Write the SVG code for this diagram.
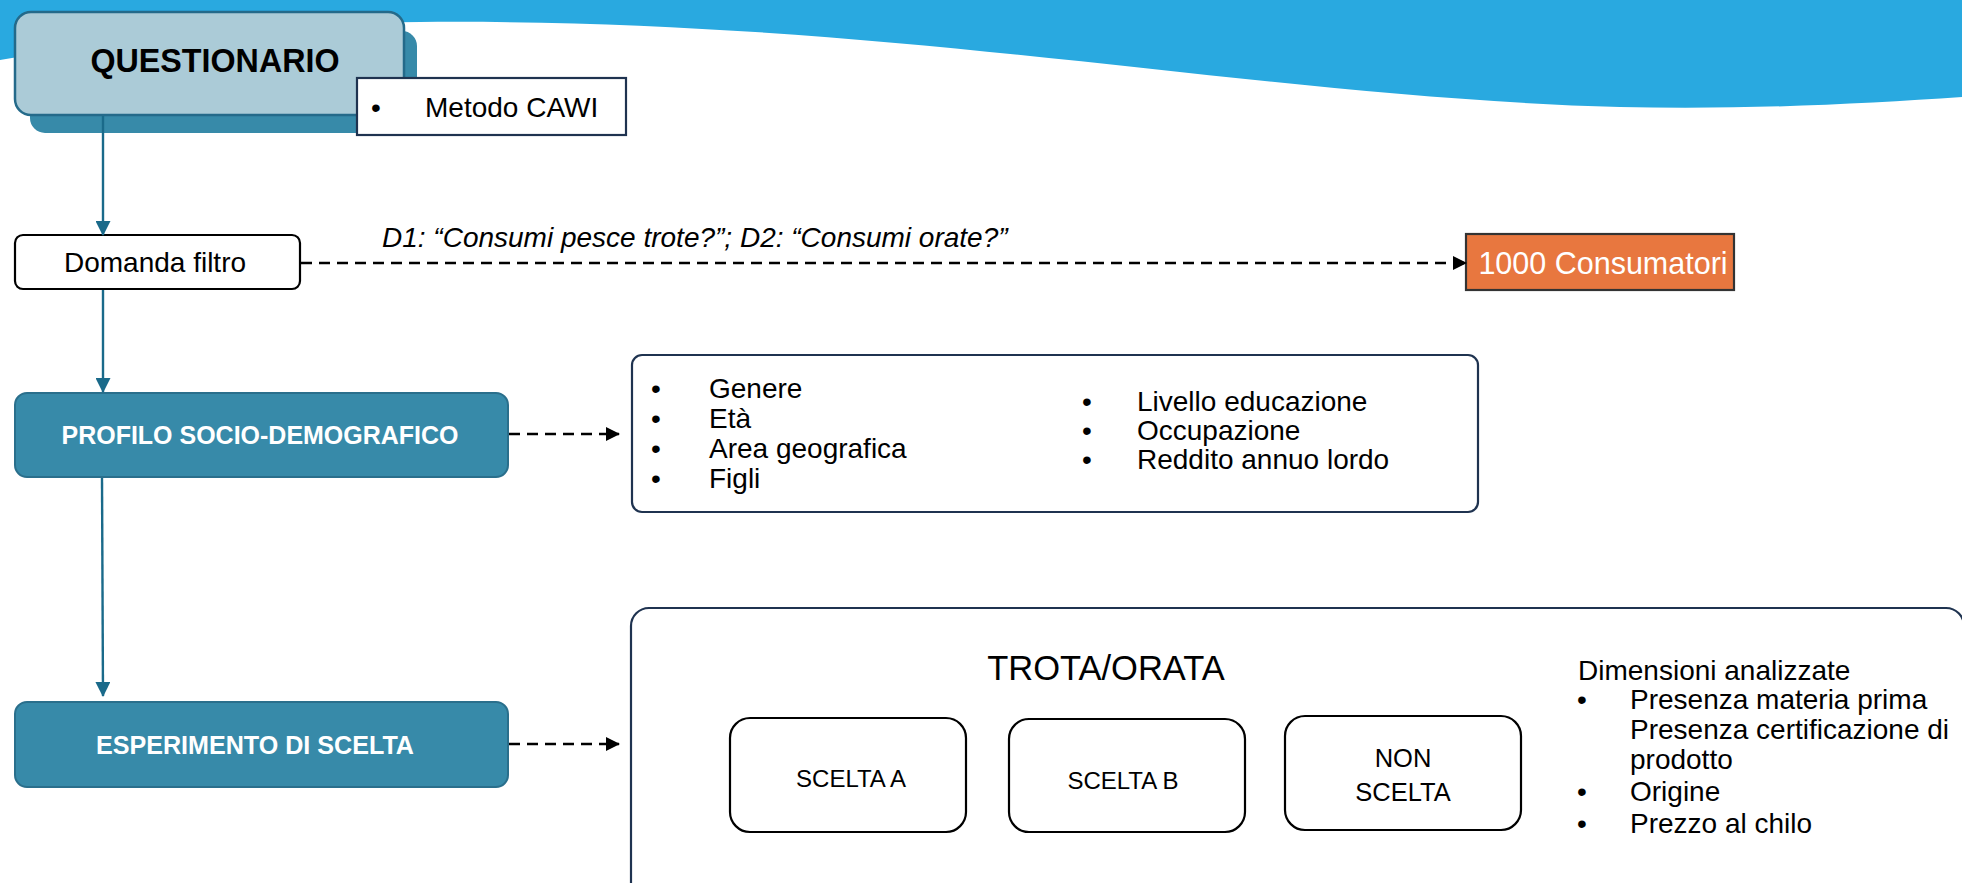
<svg xmlns="http://www.w3.org/2000/svg" width="1962" height="883" viewBox="0 0 1962 883">
<style>
text{font-family:"Liberation Sans",Arial,sans-serif;fill:#000}
.bold{font-weight:bold}
.white{fill:#fff}
.teal{fill:#378aa9;stroke:#2a6f8c;stroke-width:2}
.navy{fill:#fff;stroke:#1f3350;stroke-width:2.2}
.blk{fill:#fff;stroke:#000;stroke-width:2.2}
.flow{stroke:#1a6a8a;stroke-width:2.4;fill:none}
.dash{stroke:#000;stroke-width:2.6;fill:none;stroke-dasharray:11 7}
</style>
<defs>
<marker id="tealArrow" markerWidth="15" markerHeight="15" refX="14" refY="7.5" orient="auto" markerUnits="userSpaceOnUse">
<path d="M0,0 L15,7.5 L0,15 Z" fill="#1a6a8a"/>
</marker>
<marker id="blackArrow" markerWidth="14" markerHeight="14" refX="13" refY="7" orient="auto" markerUnits="userSpaceOnUse">
<path d="M0,0 L14,7 L0,14 Z" fill="#000"/>
</marker>
</defs>

<path id="banner" d="M0,0 H1962 V97 C1860,104 1740,110 1620,107 C1250,97 900,18 420,22 C260,24 110,40 0,60 Z" fill="#29a9e0"/>

<g id="questionario">
<rect x="30" y="31" width="387" height="102" rx="15" fill="#378aa9"/>
<rect x="15" y="12" width="389" height="103" rx="16" fill="#abcbd7" stroke="#246a8a" stroke-width="2.5"/>
<text x="215" y="72" class="bold" font-size="34" text-anchor="middle" textLength="249" lengthAdjust="spacingAndGlyphs">QUESTIONARIO</text>
</g>

<g id="metodo">
<rect x="357" y="78" width="269" height="57" class="navy"/>
<text x="371" y="117" font-size="28">•</text>
<text x="425" y="117" font-size="28">Metodo CAWI</text>
</g>

<g id="domanda">
<rect x="15" y="235" width="285" height="54" rx="8" class="blk"/>
<text x="155" y="272" font-size="28" text-anchor="middle">Domanda filtro</text>
</g>

<g id="consumatori">
<rect x="1466" y="234" width="268" height="56" fill="#e8773f" stroke="#333" stroke-width="2.2"/>
<text x="1603" y="274" class="white" font-size="30.5" text-anchor="middle">1000 Consumatori</text>
</g>

<g id="profilo">
<rect x="15" y="393" width="493" height="84" rx="12" class="teal"/>
<text x="260" y="444" class="bold white" font-size="26" text-anchor="middle" textLength="397" lengthAdjust="spacingAndGlyphs">PROFILO SOCIO-DEMOGRAFICO</text>
</g>

<g id="profilo-list">
<rect x="632" y="355" width="846" height="157" rx="10" class="navy"/>
<text font-size="28">
<tspan x="651" y="398">•</tspan><tspan x="709" y="398">Genere</tspan>
<tspan x="651" y="428">•</tspan><tspan x="709" y="428">Età</tspan>
<tspan x="651" y="458">•</tspan><tspan x="709" y="458">Area geografica</tspan>
<tspan x="651" y="488">•</tspan><tspan x="709" y="488">Figli</tspan>
<tspan x="1082" y="411">•</tspan><tspan x="1137" y="411">Livello educazione</tspan>
<tspan x="1082" y="440">•</tspan><tspan x="1137" y="440">Occupazione</tspan>
<tspan x="1082" y="469">•</tspan><tspan x="1137" y="469">Reddito annuo lordo</tspan>
</text>
</g>

<g id="esperimento">
<rect x="15" y="702" width="493" height="85" rx="12" class="teal"/>
<text x="255" y="754" class="bold white" font-size="26" text-anchor="middle" textLength="318" lengthAdjust="spacingAndGlyphs">ESPERIMENTO DI SCELTA</text>
</g>

<g id="esperimento-box">
<rect x="631" y="608" width="1333" height="300" rx="18" class="navy"/>
<text x="1106" y="680" font-size="34.5" text-anchor="middle">TROTA/ORATA</text>
</g>

<g id="scelta-a">
<rect x="730" y="718" width="236" height="114" rx="20" class="blk"/>
<text x="851" y="787" font-size="24" text-anchor="middle">SCELTA A</text>
</g>

<g id="scelta-b">
<rect x="1009" y="719" width="236" height="113" rx="20" class="blk"/>
<text x="1123" y="789" font-size="24" text-anchor="middle">SCELTA B</text>
</g>

<g id="non-scelta">
<rect x="1285" y="716" width="236" height="114" rx="20" class="blk"/>
<text font-size="25.5" text-anchor="middle"><tspan x="1403" y="767">NON</tspan><tspan x="1403" y="801">SCELTA</tspan></text>
</g>

<g id="dimensioni">
<text font-size="28">
<tspan x="1578" y="680">Dimensioni analizzate</tspan>
<tspan x="1577" y="709">•</tspan><tspan x="1630" y="709">Presenza materia prima</tspan>
<tspan x="1630" y="739">Presenza certificazione di</tspan>
<tspan x="1630" y="769">prodotto</tspan>
<tspan x="1577" y="801">•</tspan><tspan x="1630" y="801">Origine</tspan>
<tspan x="1577" y="833">•</tspan><tspan x="1630" y="833">Prezzo al chilo</tspan>
</text>
</g>

<g id="connectors">
<line x1="103" y1="116" x2="103" y2="235" class="flow" marker-end="url(#tealArrow)"/>
<line x1="103" y1="290" x2="103" y2="392" class="flow" marker-end="url(#tealArrow)"/>
<line x1="102" y1="478" x2="103" y2="696" class="flow" marker-end="url(#tealArrow)"/>
<line x1="301" y1="263" x2="1466" y2="263" class="dash" marker-end="url(#blackArrow)"/>
<line x1="509" y1="434" x2="619" y2="434" class="dash" marker-end="url(#blackArrow)"/>
<line x1="509" y1="744" x2="619" y2="744" class="dash" marker-end="url(#blackArrow)"/>
<text x="382" y="247" font-style="italic" font-size="28">D1: “Consumi pesce trote?”; D2: “Consumi orate?”</text>
</g>
</svg>
